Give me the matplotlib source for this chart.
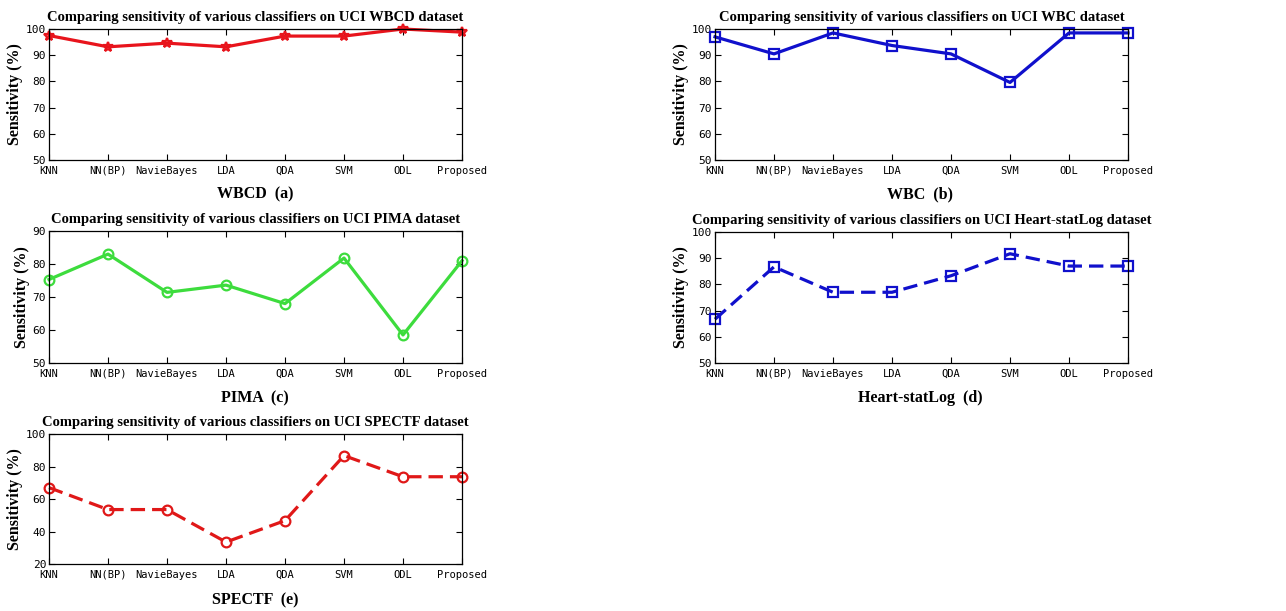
import matplotlib
matplotlib.use("Agg")
import matplotlib.pyplot as plt

classifiers = ["KNN", "NN(BP)", "NavieBayes", "LDA", "QDA", "SVM", "ODL", "Proposed"]

wbcd = [97.5, 93.2, 94.6, 93.2, 97.3, 97.3, 100.0, 98.8]
wbc = [97.0, 90.5, 98.5, 93.7, 90.5, 79.6, 98.5, 98.5]
pima = [75.3, 83.0, 71.4, 73.6, 68.0, 81.8, 58.5, 81.0]
heart = [66.7, 86.7, 77.0, 77.0, 83.3, 91.7, 87.0, 87.0]
spectf = [67.0, 53.5, 53.5, 33.5, 46.7, 86.7, 73.7, 73.7]

W, H = 1286, 611
fig = plt.figure(figsize=(W / 100, H / 100), dpi=100)

title_font = dict(family="Liberation Serif", fontweight="bold", fontsize=10.5)
label_font = dict(family="Liberation Serif", fontweight="bold", fontsize=11.5)
tick_font = "DejaVu Sans Mono"


def add_axes(left, top, right, bottom):
    return fig.add_axes([left / W, 1 - bottom / H, (right - left) / W, (bottom - top) / H])


def panel(box, values, name, color, marker, ls, ylim, yticks):
    ax = add_axes(*box)
    x = range(len(classifiers))
    ax.plot(x, values, color=color, marker=marker, linestyle=ls, linewidth=2.3,
            markersize=7, markerfacecolor="none", markeredgewidth=1.6,
            dashes=(4.5, 2.2) if ls == "--" else (None, None), clip_on=False)
    ax.set_xlim(0, len(classifiers) - 1)
    ax.set_ylim(*ylim)
    ax.set_xticks(list(x))
    ax.set_xticklabels(classifiers, family=tick_font, fontsize=7.5)
    ax.set_yticks(yticks)
    ax.set_yticklabels([str(t) for t in yticks], family=tick_font, fontsize=8)
    ax.tick_params(direction="in", top=True, right=True, length=4, width=0.8)
    ax.tick_params(axis="x", pad=4)
    ax.tick_params(axis="y", pad=2)
    for s in ax.spines.values():
        s.set_linewidth(0.9)
    ax.set_title("Comparing sensitivity of various classifiers on UCI %s dataset" % name,
                 pad=6, **title_font)
    ax.set_ylabel("Sensitivity (%)", labelpad=2, **label_font)
    return ax


def xlabel(text, cx, y):
    fig.text(cx / W, 1 - y / H, text, ha="center", va="center", **label_font)


panel((49, 29, 462, 160), wbcd, "WBCD", "#e8141c", "*", "-", (50, 100), range(50, 101, 10))
xlabel("WBCD  (a)", 255, 194)
panel((715, 29, 1128, 160), wbc, "WBC", "#1010cc", "s", "-", (50, 100), range(50, 101, 10))
xlabel("WBC  (b)", 920, 194)
panel((49, 231, 462, 363), pima, "PIMA", "#3ddc3d", "o", "-", (50, 90), range(50, 91, 10))
xlabel("PIMA  (c)", 255, 398)
panel((715, 232, 1128, 363), heart, "Heart-statLog", "#1010cc", "s", "--", (50, 100), range(50, 101, 10))
xlabel("Heart-statLog  (d)", 920, 398)
panel((49, 434, 462, 564), spectf, "SPECTF", "#e01818", "o", "--", (20, 100), range(20, 101, 20))
xlabel("SPECTF  (e)", 255, 600)

fig.savefig("out.png", dpi=100, facecolor="white")
